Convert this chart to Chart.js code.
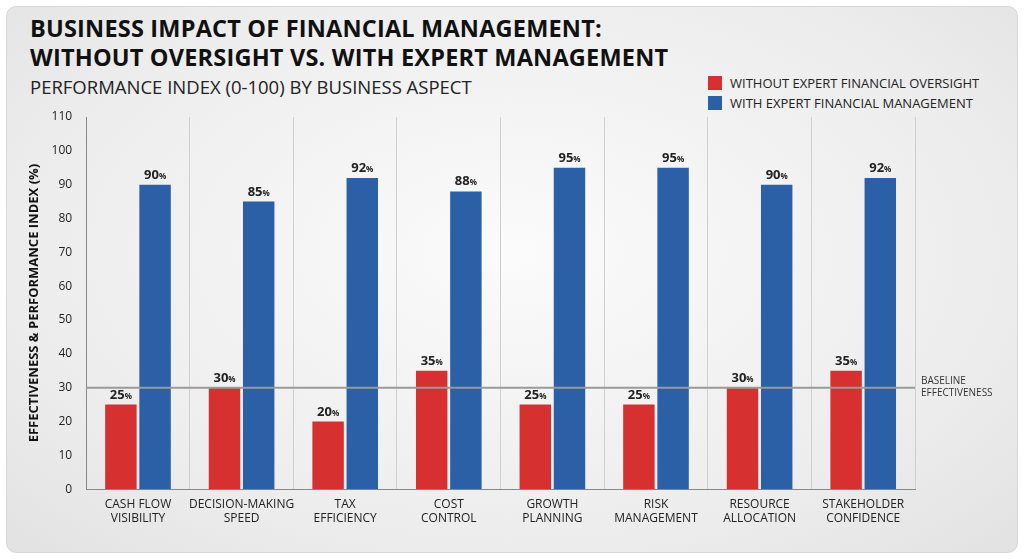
<!DOCTYPE html>
<html><head><meta charset="utf-8">
<script src="https://cdn.jsdelivr.net/npm/chart.js@4"></script>
<style>
html,body{margin:0;padding:0;width:1024px;height:559px;overflow:hidden;background:#fff;font-family:"Open Sans",sans-serif}
#card{position:absolute;left:6px;top:6px;width:1010px;height:545px;border-radius:10px;background:radial-gradient(ellipse at 50% 45%,#fbfbfb 0%,#ececec 70%,#e2e2e2 100%);border:1px solid #d8d8d8}
#title{position:absolute;left:30px;top:14px;font-size:23.5px;font-weight:700;line-height:29px;color:#111;font-family:"Open Sans",sans-serif;letter-spacing:0.2px}
#sub{position:absolute;left:30px;top:74px;font-size:18.5px;color:#222}
.leg{position:absolute;left:708px;font-size:13px;color:#222;display:flex;align-items:center}
.leg span{display:inline-block;width:14px;height:14px;margin-right:8px}
#c{position:absolute;left:0;top:0}
</style></head><body>
<div id="card"></div>
<div id="title">BUSINESS IMPACT OF FINANCIAL MANAGEMENT:<br>WITHOUT OVERSIGHT VS. WITH EXPERT MANAGEMENT</div>
<div id="sub">PERFORMANCE INDEX (0-100) BY BUSINESS ASPECT</div>
<div class="leg" style="top:74px"><span style="background:#d63031"></span>WITHOUT EXPERT FINANCIAL OVERSIGHT</div>
<div class="leg" style="top:94px"><span style="background:#2b5fa6"></span>WITH EXPERT FINANCIAL MANAGEMENT</div>
<canvas id="c" width="1024" height="559"></canvas>
<script>
const categories = [["CASH FLOW","VISIBILITY"],["DECISION-MAKING","SPEED"],["TAX","EFFICIENCY"],["COST","CONTROL"],["GROWTH","PLANNING"],["RISK","MANAGEMENT"],["RESOURCE","ALLOCATION"],["STAKEHOLDER","CONFIDENCE"]];
const withoutOversight = [25,30,20,35,25,25,30,35];
const withExpert = [90,85,92,88,95,95,90,92];
const baselineValue = 30;

const extras = {
  id: 'extras',
  afterDatasetsDraw(chart) {
    const ctx = chart.ctx, y = chart.scales.y, area = chart.chartArea;
    const by = y.getPixelForValue(baselineValue);
    ctx.save();
    ctx.strokeStyle = '#9a9a9a'; ctx.lineWidth = 2;
    ctx.beginPath(); ctx.moveTo(area.left, by); ctx.lineTo(area.right, by); ctx.stroke();
    ctx.fillStyle = '#333'; ctx.font = '10px "Open Sans"'; ctx.textAlign = 'left';
    ctx.fillText('BASELINE', area.right + 6, by - 4);
    ctx.fillText('EFFECTIVENESS', area.right + 6, by + 8);
    chart.data.datasets.forEach((ds, i) => {
      chart.getDatasetMeta(i).data.forEach((bar, j) => {
        const v = String(ds.data[j]);
        ctx.font = 'bold 13px "Open Sans"';
        const w1 = ctx.measureText(v).width;
        ctx.font = 'bold 8px "Open Sans"';
        const w2 = ctx.measureText('%').width;
        const x0 = bar.x - (w1 + w2) / 2, yy = bar.y - 6;
        ctx.fillStyle = '#222'; ctx.textAlign = 'left';
        ctx.font = 'bold 13px "Open Sans"'; ctx.fillText(v, x0, yy);
        ctx.font = 'bold 8px "Open Sans"'; ctx.fillText('%', x0 + w1, yy);
      });
    });
    ctx.restore();
  }
};

new Chart(document.getElementById('c'), {
  type: 'bar',
  data: {
    labels: categories,
    datasets: [
      { label: 'WITHOUT EXPERT FINANCIAL OVERSIGHT', data: withoutOversight, backgroundColor: '#d63031' },
      { label: 'WITH EXPERT FINANCIAL MANAGEMENT', data: withExpert, backgroundColor: '#2b5fa6' }
    ]
  },
  options: {
    responsive: false, animation: false,
    categoryPercentage: 0.66, barPercentage: 0.92,
    layout: { padding: { top: 117, right: 109, left: 22, bottom: 25 } },
    plugins: { legend: { display: false }, tooltip: { enabled: false } },
    scales: {
      x: {
        grid: { display: true, offset: true, color: '#cfcfcf', drawTicks: false },
        border: { color: '#888' },
        ticks: { autoSkip: false, color: '#222', font: { size: 12, family: '"Open Sans"' }, padding: 8, maxRotation: 0 }
      },
      y: {
        min: 0, max: 110,
        ticks: { stepSize: 10, color: '#222', font: { size: 12, family: '"Open Sans"' }, padding: 6 },
        grid: { display: false },
        border: { color: '#888' },
        title: { display: true, text: 'EFFECTIVENESS & PERFORMANCE INDEX (%)', color: '#111', font: { size: 13, weight: 'bold', family: '"Open Sans"' } }
      }
    }
  },
  plugins: [extras]
});
</script>
</body></html>
